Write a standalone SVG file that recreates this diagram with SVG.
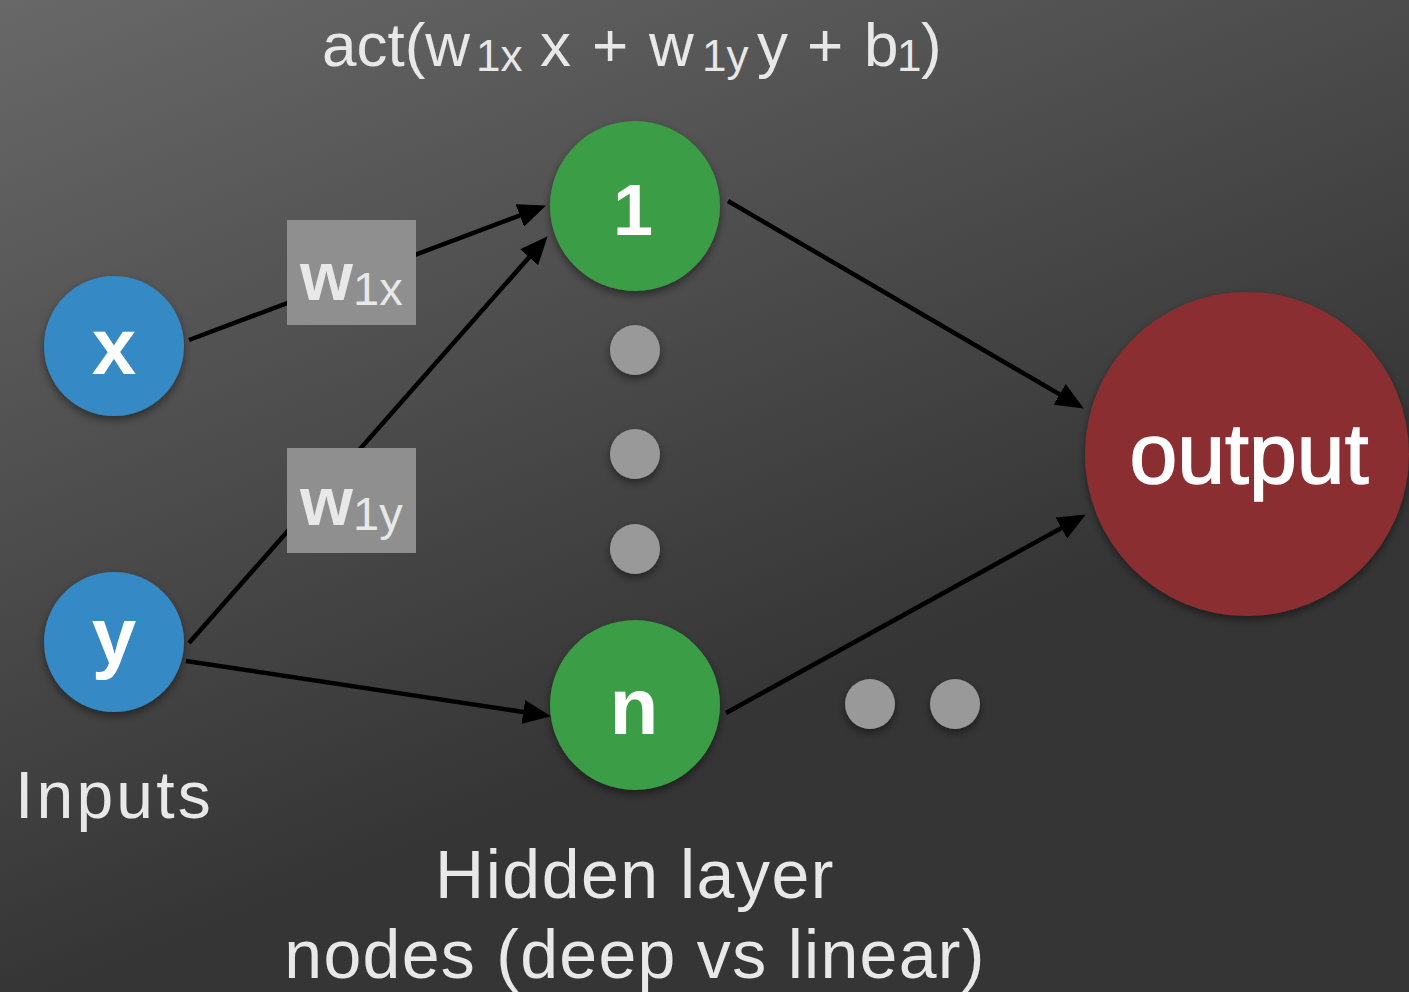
<svg xmlns="http://www.w3.org/2000/svg" width="1409" height="992" viewBox="0 0 1409 992">
  <defs>
    <linearGradient id="bg" gradientUnits="userSpaceOnUse" x1="0" y1="0" x2="346" y2="875">
      <stop offset="0" stop-color="#686868"/>
      <stop offset="1" stop-color="#353535"/>
    </linearGradient>
    <filter id="shadow" x="-20%" y="-20%" width="140%" height="150%">
      <feDropShadow dx="0" dy="4" stdDeviation="4" flood-color="#000" flood-opacity="0.45"/>
    </filter>
    <marker id="arrow" viewBox="0 0 28 24" refX="9" refY="12" markerWidth="28" markerHeight="24" markerUnits="userSpaceOnUse" orient="auto">
      <path d="M0,0 L28,12 L0,24 z" fill="#000"/>
    </marker>
    <style>
      .edge { stroke: #000; stroke-width: 4.5; fill: none; marker-end: url(#arrow); }
      .lbl { font-family: "Liberation Sans", Arial, sans-serif; fill: #e8e8e8; }
      .node-lbl { font-family: "Liberation Sans", Arial, sans-serif; fill: #ffffff; font-weight: bold; text-anchor: middle; }
      .dot { fill: #999999; filter: url(#shadow); }
      .wbox { fill: #8f8f8f; }
    </style>
  </defs>

  <rect x="0" y="0" width="1409" height="992" fill="url(#bg)"/>

  <!-- title -->
  <text class="lbl" font-size="62" y="66">
    <tspan x="322">act(w</tspan><tspan x="476" y="71" font-size="44">1x</tspan><tspan x="540" y="66">x</tspan><tspan x="592">+</tspan><tspan x="649">w</tspan><tspan x="702" y="71" font-size="44">1y</tspan><tspan x="757" y="66">y</tspan><tspan x="807">+</tspan><tspan x="864">b</tspan><tspan x="897" y="71" font-size="44">1</tspan><tspan x="921" y="66">)</tspan>
  </text>

  <g id="connectors">
    <line class="edge" x1="189" y1="340" x2="528.2" y2="212.3"/>
    <line class="edge" x1="189" y1="643" x2="535.1" y2="250.5"/>
    <line class="edge" x1="186" y1="661" x2="532.2" y2="713.3"/>
    <line class="edge" x1="728" y1="201" x2="1067.4" y2="398.9"/>
    <line class="edge" x1="726" y1="713" x2="1069.2" y2="523.7"/>
  </g>

  <g id="w1x">
    <rect class="wbox" x="287" y="220" width="129" height="105"/>
    <text class="lbl" y="300"><tspan x="300" font-size="68" font-weight="bold">w</tspan><tspan x="353" y="305" font-size="47">1x</tspan></text>
  </g>
  <g id="w1y">
    <rect class="wbox" x="287" y="448" width="129" height="105"/>
    <text class="lbl" y="525"><tspan x="300" font-size="68" font-weight="bold">w</tspan><tspan x="353" y="530" font-size="47">1y</tspan></text>
  </g>

  <g id="node-x">
    <circle cx="114" cy="346" r="70" fill="#3689c4" filter="url(#shadow)"/>
    <text class="node-lbl" x="114" y="374" font-size="80">x</text>
  </g>
  <g id="node-y">
    <circle cx="114" cy="642" r="70" fill="#3689c4" filter="url(#shadow)"/>
    <text class="node-lbl" x="114" y="663" font-size="80">y</text>
  </g>
  <g id="node-1">
    <circle cx="635" cy="206" r="85" fill="#3b9e46" filter="url(#shadow)"/>
    <text class="node-lbl" x="633" y="235" font-size="72">1</text>
  </g>
  <g id="node-n">
    <circle cx="635" cy="705" r="85" fill="#3b9e46" filter="url(#shadow)"/>
    <text class="node-lbl" x="634" y="734" font-size="80">n</text>
  </g>
  <g id="node-output">
    <circle cx="1247" cy="454" r="162" fill="#8a2f31" filter="url(#shadow)"/>
    <text x="1249" y="483" font-size="86" text-anchor="middle" font-family="'Liberation Sans', Arial, sans-serif" fill="#ffffff" stroke="#ffffff" stroke-width="1.5">output</text>
  </g>

  <g id="dots">
    <circle class="dot" cx="635" cy="350" r="25"/>
    <circle class="dot" cx="635" cy="454" r="25"/>
    <circle class="dot" cx="635" cy="549" r="25"/>
    <circle class="dot" cx="870" cy="704" r="25"/>
    <circle class="dot" cx="955" cy="704" r="25"/>
  </g>

  <text class="lbl" x="15" y="818" font-size="66" letter-spacing="3.2">Inputs</text>
  <text class="lbl" x="635" y="898" font-size="68" text-anchor="middle" letter-spacing="1.5">Hidden layer</text>
  <text class="lbl" x="635" y="978" font-size="68" text-anchor="middle" letter-spacing="1.3">nodes (deep vs linear)</text>
</svg>
